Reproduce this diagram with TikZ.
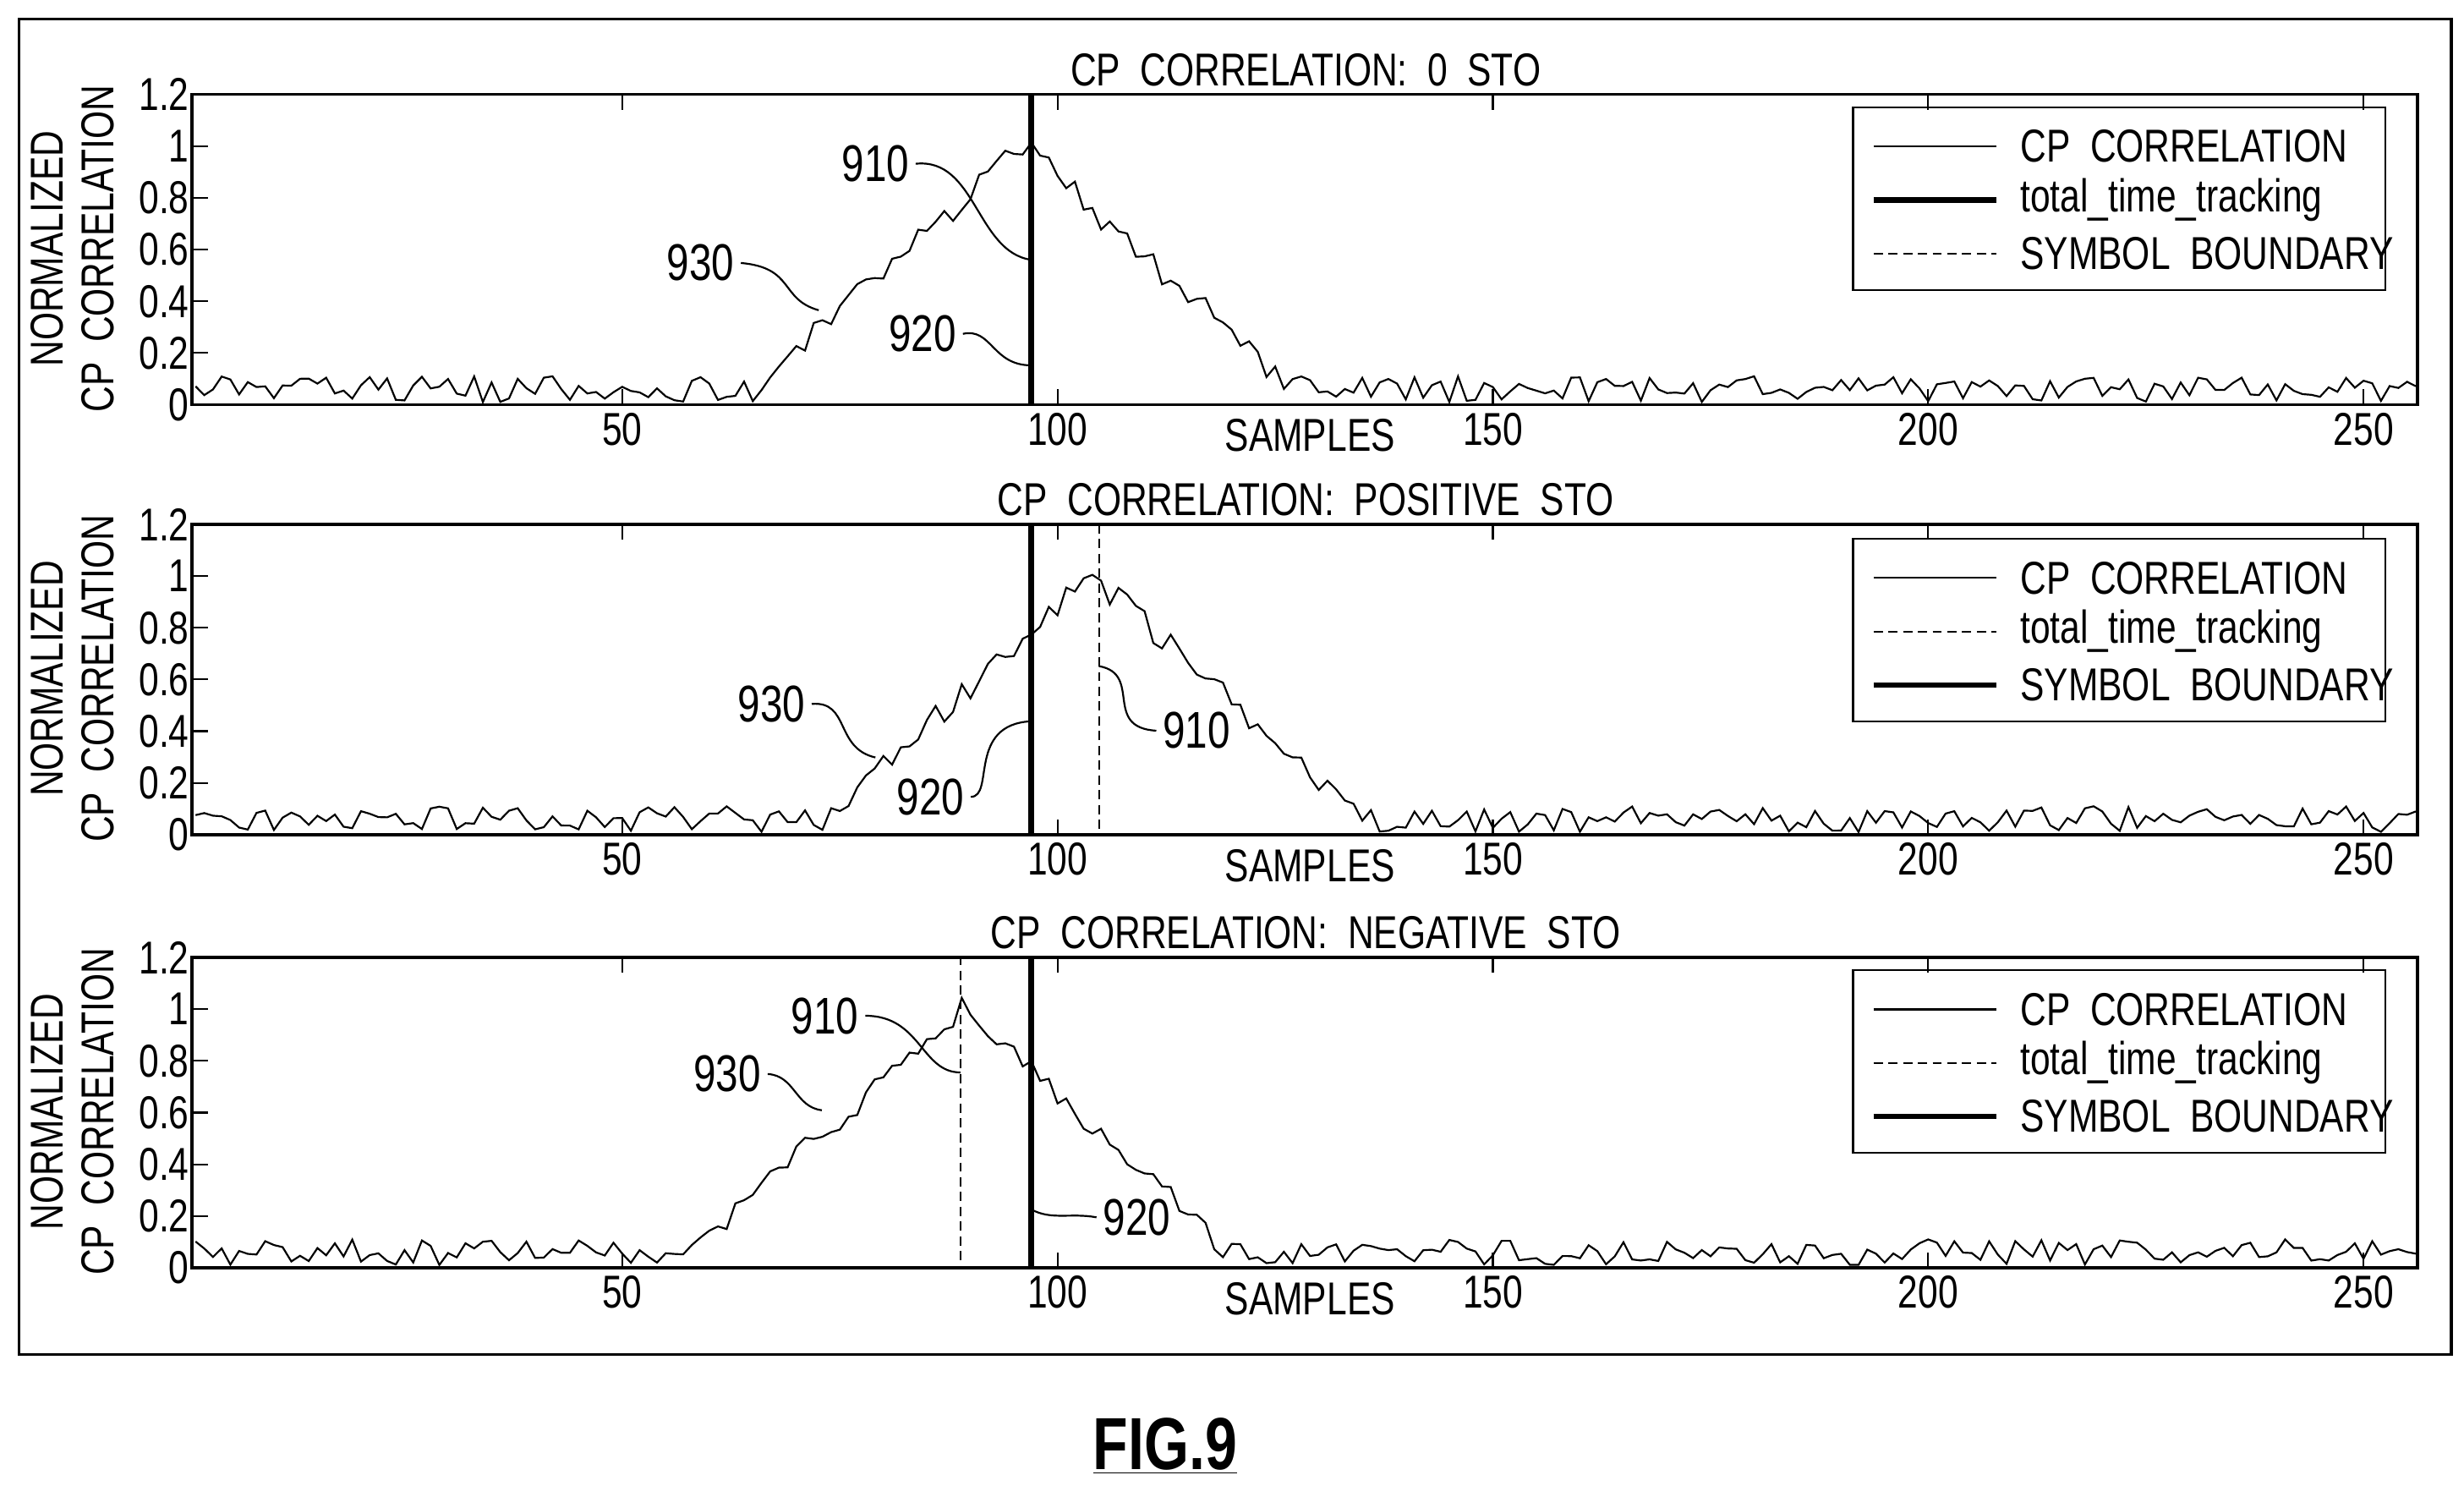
\documentclass[tikz,border=0pt]{standalone}
\usepackage{fontspec}
\setmainfont[FakeStretch=0.78]{Liberation Sans}
\tikzset{
  lbl/.style={font=\fontsize{25}{28}\selectfont, inner sep=0pt},
  ref/.style={font=\fontsize{28}{30}\selectfont, inner sep=0pt},
  thinln/.style={line width=1pt},
  frameln/.style={line width=1.6pt},
  boldln/.style={line width=3pt},
  dashln/.style={line width=1pt, dash pattern=on 5pt off 3pt}
}
\newcommand\mypanel[3]{% #1 bottom y, #2 title, #3 peak center
  \begin{scope}[shift={(118.68,#1)}, xscale=5.53, yscale=-164.2]
    \draw[thinln] plot[domain=1:256, samples=256]
      (\x, {0.06+0.94*max(0,1-abs(\x-#3)/31)+0.05*rand});
    \foreach \t in {50,100,150,200,250}{
      \draw[thinln] (\t,0) -- (\t,0.06); \draw[thinln] (\t,1.2) -- (\t,1.14);
      \node[lbl, anchor=north] at (\t,-0.03) {\t};}
    \foreach \v in {0.2,0.4,0.6,0.8,1}{
      \draw[thinln] (0.6,\v) -- (2.4,\v);}
    \foreach \v in {0,0.2,0.4,0.6,0.8,1,1.2}{
      \node[lbl, anchor=east] at (0.3,\v) {\v};}
    \draw[frameln] (0.6,0) rectangle (256.2,1.2);
    \node[lbl, anchor=south] at (128.5,1.23) {#2};
    \node[lbl] at (129,-0.12) {SAMPLES};
  \end{scope}
  \node[lbl, rotate=90] at (30,#1-99) {NORMALIZED};
  \node[lbl, rotate=90] at (62,#1-99) {CP\ \ CORRELATION};
}
\newcommand\mylegend[4]{% #1 top y, styles #2 #3 #4
  \draw[thinln] (1177,#1) rectangle (1515,#1+116);
  \draw[#2] (1190,#1+25) -- (1268,#1+25);
  \draw[#3] (1190,#1+59) -- (1268,#1+59);
  \draw[#4] (1190,#1+93) -- (1268,#1+93);
  \node[lbl, anchor=west] at (1283,#1+25) {CP\ \ CORRELATION};
  \node[lbl, anchor=west] at (1283,#1+59) {total\_time\_tracking};
  \node[lbl, anchor=west] at (1283,#1+93) {SYMBOL\ \ BOUNDARY};
}
\begin{document}
\begin{tikzpicture}[x=0.3mm, y=-0.3mm]
\useasboundingbox (0,0) rectangle (1565,950.5);
\draw[frameln] (12,12) rectangle (1557,860);
\pgfmathsetseed{7}
% panel 1
\mypanel{257}{CP\ \ CORRELATION:\ \ 0\ \ STO}{96}
\draw[boldln] (655,60) -- (655,257);
\mylegend{68}{thinln}{boldln}{dashln}
\node[ref] (l910a) at (556,104) {910};
\node[ref] (l930a) at (445,167) {930};
\node[ref] (l920a) at (586,212) {920};
\coordinate (e910a) at (655,165);
\coordinate (e930a) at (520,197);
\coordinate (e920a) at (655,232);
\draw[thinln] (l910a.east) ++(4,0) .. controls (620,100) and (620,160) .. (e910a);
\draw[thinln] (l930a.east) ++(4,0) .. controls (505,170) and (495,190) .. (e930a);
\draw[thinln] (l920a.east) ++(4,0) .. controls (630,208) and (630,232) .. (e920a);
% panel 2
\mypanel{530}{CP\ \ CORRELATION:\ \ POSITIVE\ \ STO}{104}
\draw[boldln] (655,333) -- (655,530);
\draw[dashln] (698,333) -- (698,530);
\mylegend{342}{thinln}{dashln}{boldln}
\node[ref] (l930b) at (490,447) {930};
\node[ref] (l920b) at (591,506) {920};
\node[ref] (l910b) at (760,464) {910};
\coordinate (e930b) at (556,481);
\coordinate (e920b) at (655,458);
\coordinate (e910b) at (698,423);
\draw[thinln] (l930b.east) ++(4,0) .. controls (540,445) and (530,475) .. (e930b);
\draw[thinln] (l920b.east) ++(4,0) .. controls (632,506) and (614,460) .. (e920b);
\draw[thinln] (l910b.west) ++(-4,0) .. controls (700,462) and (726,428) .. (e910b);
% panel 3
\mypanel{805}{CP\ \ CORRELATION:\ \ NEGATIVE\ \ STO}{89}
\draw[dashln] (610,607) -- (610,805);
\draw[boldln] (655,607) -- (655,805);
\mylegend{616}{thinln}{dashln}{boldln}
\node[ref] (l910c) at (524,645) {910};
\node[ref] (l930c) at (462,682) {930};
\node[ref] (l920c) at (722,773) {920};
\coordinate (e910c) at (610,681);
\coordinate (e930c) at (522,705);
\coordinate (e920c) at (655,768);
\draw[thinln] (l910c.east) ++(4,0) .. controls (585,645) and (585,681) .. (e910c);
\draw[thinln] (l930c.east) ++(4,0) .. controls (505,683) and (505,703) .. (e930c);
\draw[thinln] (l920c.west) ++(-4,0) .. controls (680,770) and (668,775) .. (e920c);
% caption
\node[inner sep=0pt, font=\fontsize{40}{44}\selectfont\bfseries] (fig) at (740,918) {\underline{FIG.9}};
\end{tikzpicture}
\end{document}
